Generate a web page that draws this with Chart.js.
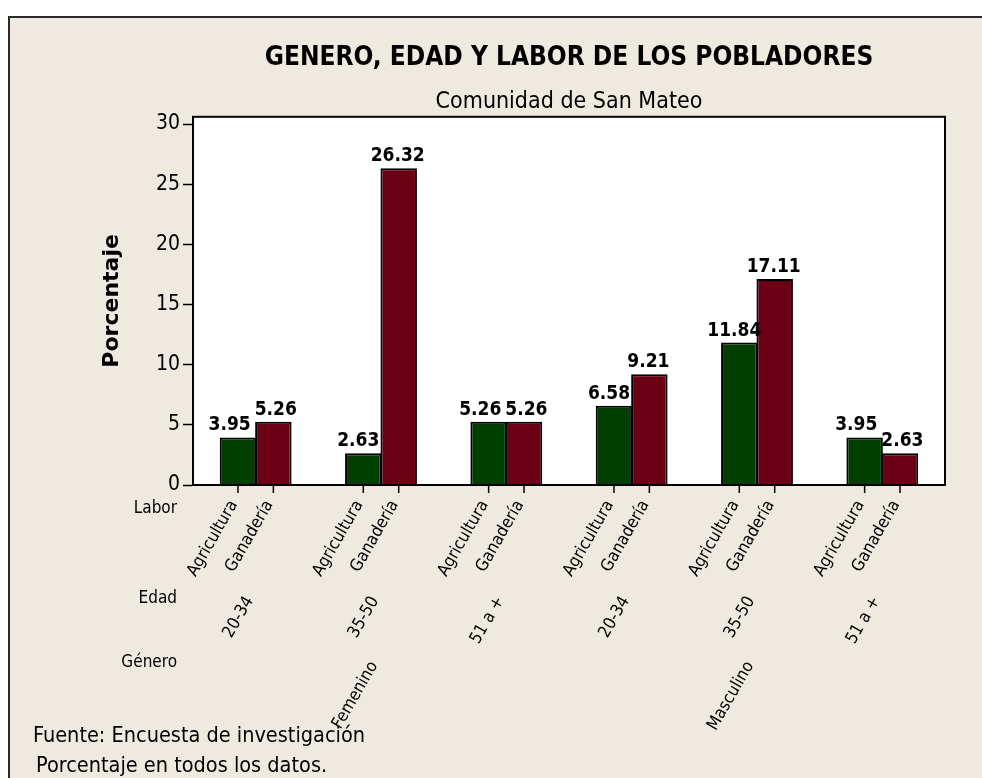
<!DOCTYPE html>
<html>
<head>
<meta charset="utf-8">
<script src="https://cdn.jsdelivr.net/npm/chart.js@4.4.1/dist/chart.umd.min.js"></script>
<style>
  html, body { margin: 0; padding: 0; background: #ffffff; }
  canvas { display: block; }
</style>
</head>
<body>
<canvas id="c" width="982" height="778"></canvas>
<script>
// ---- data ----
const labores = ['Agricultura', 'Ganadería'];
const edades = ['20-34', '35-50', '51 a +', '20-34', '35-50', '51 a +'];
const generos = ['Femenino', 'Masculino'];
const generoDeGrupo = [0, 0, 0, 1, 1, 1];
const agricultura = [3.95, 2.63, 5.26, 6.58, 11.84, 3.95];
const ganaderia = [5.26, 26.32, 5.26, 9.21, 17.11, 2.63];
const yTicks = [0, 5, 10, 15, 20, 25, 30];
const titulo = 'GENERO, EDAD Y LABOR DE LOS POBLADORES';
const subtitulo = 'Comunidad de San Mateo';
const tituloEjeY = 'Porcentaje';
const filas = ['Labor', 'Edad', 'Género'];
const notas = ['Fuente: Encuesta de investigación', 'Porcentaje en todos los datos.'];

// ---- styles ----
const COND = '"DejaVu Sans Condensed", "DejaVu Sans", sans-serif';
const SANS = '"DejaVu Sans", sans-serif';
const BEIGE = '#EEEAE0';
const GREEN = '#003F00';
const MAROON = '#6B0015';

const decor = {
  id: 'decor',
  beforeDraw(chart) {
    const { ctx, width, height, chartArea: a } = chart;
    ctx.save();
    ctx.fillStyle = '#ffffff';
    ctx.fillRect(0, 0, width, height);
    ctx.fillStyle = BEIGE;
    ctx.fillRect(9, 17, width - 9, height - 17);
    ctx.strokeStyle = '#2a2a2a';
    ctx.lineWidth = 2;
    ctx.beginPath();
    ctx.moveTo(9, height);
    ctx.lineTo(9, 17);
    ctx.lineTo(width, 17);
    ctx.stroke();
    ctx.fillStyle = '#ffffff';
    ctx.fillRect(a.left, a.top, a.right - a.left, a.bottom - a.top);
    ctx.restore();
  },
  afterDatasetsDraw(chart) {
    const { ctx, chartArea: a } = chart;
    const xs = chart.scales.x;
    ctx.save();
    // frame
    ctx.strokeStyle = '#000';
    ctx.lineWidth = 2;
    ctx.strokeRect(a.left, a.top, a.right - a.left, a.bottom - a.top);

    // value labels with simple collision avoidance inside each group
    ctx.fillStyle = '#000';
    ctx.font = 'bold 19px ' + COND;
    ctx.textAlign = 'center';
    ctx.textBaseline = 'alphabetic';
    const mA = chart.getDatasetMeta(0), mB = chart.getDatasetMeta(1);
    const dA = chart.data.datasets[0].data, dB = chart.data.datasets[1].data;
    dA.forEach((_, j) => {
      const ta = dA[j].toFixed(2), tb = dB[j].toFixed(2);
      const wa = ctx.measureText(ta).width, wb = ctx.measureText(tb).width;
      let xa = mA.data[j].x - 5, xb = mB.data[j].x - 1;
      const ya = mA.data[j].y - 7, yb = mB.data[j].y - 7;
      if (Math.abs(ya - yb) < 18) {
        const ov = (xa + wa / 2 + 4) - (xb - wb / 2);
        if (ov > 0) { xa -= ov / 2; xb += ov / 2; }
      }
      ctx.fillText(ta, xa, ya);
      ctx.fillText(tb, xb, yb);
    });

    // tick marks and Labor labels
    ctx.strokeStyle = '#000';
    ctx.lineWidth = 1.5;
    ctx.font = '17px ' + COND;
    ctx.textAlign = 'right';
    ctx.textBaseline = 'middle';
    chart.data.datasets.forEach((ds, i) => {
      const meta = chart.getDatasetMeta(i);
      meta.data.forEach((bar) => {
        ctx.beginPath();
        ctx.moveTo(bar.x, a.bottom);
        ctx.lineTo(bar.x, a.bottom + 8);
        ctx.stroke();
        ctx.save();
        ctx.translate(bar.x - 4, a.bottom + 17);
        ctx.rotate(-Math.PI / 3);
        ctx.fillText(labores[i], 0, 0);
        ctx.restore();
      });
    });

    // Edad labels
    edades.forEach((e, j) => {
      const x = xs.getPixelForValue(j);
      ctx.save();
      ctx.translate(x - 6, a.bottom + 113);
      ctx.rotate(-Math.PI / 3);
      ctx.fillText(e, 0, 0);
      ctx.restore();
    });

    // Genero labels
    generos.forEach((g, k) => {
      const idx = generoDeGrupo.map((v, j) => v === k ? j : -1).filter(j => j >= 0);
      const x = idx.reduce((s, j) => s + xs.getPixelForValue(j), 0) / idx.length;
      ctx.save();
      ctx.translate(x - 7, a.bottom + 178);
      ctx.rotate(-Math.PI / 3);
      ctx.fillText(g, 0, 0);
      ctx.restore();
    });

    // row titles
    ctx.font = '17px ' + COND;
    ctx.textAlign = 'right';
    ctx.textBaseline = 'alphabetic';
    const rowY = [28, 118, 182];
    filas.forEach((f, k) => ctx.fillText(f, a.left - 16, a.bottom + rowY[k]));

    // footnotes
    ctx.font = '21.5px ' + COND;
    ctx.textAlign = 'left';
    ctx.fillText(notas[0], 33, 742);
    ctx.fillText(notas[1], 36, 772);
    ctx.restore();
  }
};

new Chart(document.getElementById('c'), {
  type: 'bar',
  data: {
    labels: edades,
    datasets: [
      { label: labores[0], data: agricultura, backgroundColor: GREEN, borderColor: '#000', borderWidth: 2 },
      { label: labores[1], data: ganaderia, backgroundColor: MAROON, borderColor: '#000', borderWidth: 2 }
    ]
  },
  options: {
    responsive: false,
    animation: false,
    events: [],
    categoryPercentage: 0.565,
    barPercentage: 1.03,
    layout: { padding: { top: 43, left: 0, right: 37, bottom: 293 } },
    plugins: {
      legend: { display: false },
      tooltip: { enabled: false },
      title: {
        display: true, text: titulo, fullSize: false, color: '#000',
        font: { family: COND, size: 26, weight: 'bold', lineHeight: 1.2 },
        padding: { top: 0, bottom: 0 }
      },
      subtitle: {
        display: true, text: subtitulo, fullSize: false, color: '#000',
        font: { family: COND, size: 23, weight: 'normal', lineHeight: 1.2 },
        padding: { top: 14, bottom: 1 }
      }
    },
    scales: {
      x: {
        ticks: { display: false },
        grid: { display: false },
        border: { display: true, color: '#000', width: 2 },
        afterFit: (s) => { s.height = 0; }
      },
      y: {
        min: 0,
        max: 30.6,
        afterBuildTicks: (s) => { s.ticks = yTicks.map(v => ({ value: v })); },
        ticks: { color: '#000', font: { family: COND, size: 21 }, padding: 3 },
        grid: { drawOnChartArea: false, drawTicks: true, tickLength: 10, color: '#000', tickColor: '#000', tickWidth: 1.5 },
        border: { display: true, color: '#000', width: 2 },
        title: {
          display: true, text: tituloEjeY, color: '#000',
          font: { family: SANS, size: 22, weight: 'bold', lineHeight: 1.2 },
          padding: { top: 99, bottom: 0 }
        },
        afterFit: (s) => { s.width = 193; }
      }
    }
  },
  plugins: [decor]
});
</script>
</body>
</html>
